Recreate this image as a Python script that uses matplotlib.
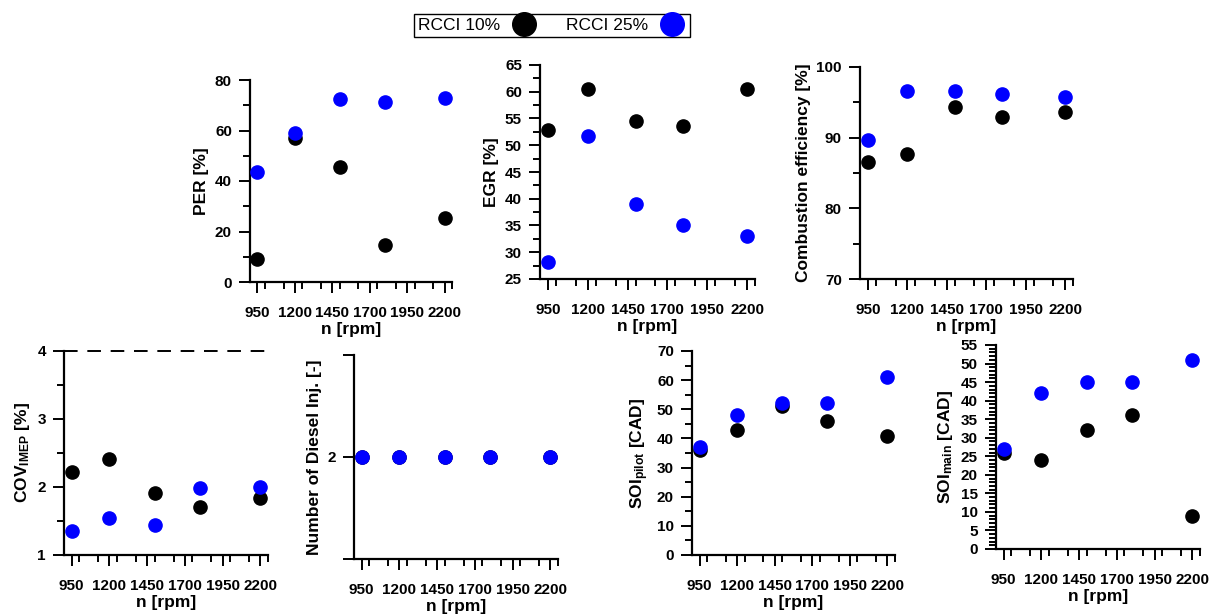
import matplotlib
matplotlib.use('Agg')
import matplotlib.pyplot as plt
from matplotlib.ticker import MultipleLocator
from matplotlib.lines import Line2D

plt.rcParams['font.family'] = ['Liberation Sans', 'DejaVu Sans']
plt.rcParams['font.weight'] = 'bold'
plt.rcParams['mathtext.fontset'] = 'custom'
plt.rcParams['mathtext.rm'] = 'Liberation Sans:bold'
plt.rcParams['mathtext.bf'] = 'Liberation Sans:bold'
plt.rcParams['mathtext.it'] = 'Liberation Sans:bold'

# engine speed
rpm = [950, 1200, 1500, 1800, 2200]
rpm_ticks = [950, 1200, 1450, 1700, 1950, 2200]

# RCCI 10%
per_10 = [9.2, 56.9, 45.5, 14.8, 25.2]
egr_10 = [52.9, 60.5, 54.5, 53.6, 60.6]
ce_10 = [86.5, 87.7, 94.3, 92.9, 93.6]
cov_10 = [2.22, 2.41, 1.91, 1.71, 1.84]
ninj_10 = [2, 2, 2, 2, 2]
soi_pilot_10 = [36, 43, 51, 46, 41]
soi_main_10 = [26, 24, 32, 36, 9]

# RCCI 25%
per_25 = [43.6, 58.9, 72.5, 71.2, 72.8]
egr_25 = [28.2, 51.7, 39.1, 35.0, 33.0]
ce_25 = [89.6, 96.6, 96.6, 96.2, 95.7]
cov_25 = [1.35, 1.54, 1.44, 1.98, 2.0]
ninj_25 = [2, 2, 2, 2, 2]
soi_pilot_25 = [37, 48, 52, 52, 61]
soi_main_25 = [27, 42, 45, 45, 51]

W, H = 1219, 616
fig = plt.figure(figsize=(W / 100, H / 100), dpi=100)


def box(l, t, r, b):
    return [l / W, 1 - b / H, (r - l) / W, (b - t) / H]


def panel(rect, y10, y25, ylabel, ylim, major, minor):
    ax = fig.add_axes(rect)
    ax.plot(rpm, y10, 'o', color='black', ms=9.5, ls='none', clip_on=False, zorder=3)
    ax.plot(rpm, y25, 'o', color='#0000ff', ms=9.5, ls='none', clip_on=False, zorder=4)
    ax.set_xlim(900, 2250)
    ax.set_ylim(*ylim)
    ax.set_xticks(rpm_ticks)
    ax.xaxis.set_minor_locator(MultipleLocator(125))
    if major is not None:
        ax.yaxis.set_major_locator(MultipleLocator(major))
    if minor is not None:
        ax.yaxis.set_minor_locator(MultipleLocator(minor))
    for s in ['top', 'right']:
        ax.spines[s].set_visible(False)
    for s in ['left', 'bottom']:
        ax.spines[s].set_linewidth(1.6)
    ax.tick_params(which='major', direction='out', length=8, width=1.4, labelsize=11)
    ax.tick_params(which='minor', direction='out', length=5, width=1.4)
    ax.tick_params(axis='x', which='major', pad=9)
    ax.tick_params(axis='y', which='major', pad=5)
    ax.set_xlabel('n [rpm]', fontsize=12.5, fontweight='bold', labelpad=2)
    ax.set_ylabel(ylabel, fontsize=12.5, fontweight='bold', labelpad=4)
    return ax


# top row
panel(box(250, 80, 452, 282), per_10, per_25, 'PER [%]', (0, 80), 20, 10)
panel(box(540, 65, 755, 279), egr_10, egr_25, 'EGR [%]', (25, 65), 5, 2.5)
panel(box(860, 67, 1073, 279), ce_10, ce_25, 'Combustion efficiency [%]', (70, 100), 10, 5)

# bottom row
ax_cov = panel(box(64, 351, 268, 555), cov_10, cov_25, r'COV$_{\mathrm{IMEP}}$ [%]', (1, 4), 1, 0.5)
ax_cov.axhline(4, color='black', lw=1.4, dashes=[7, 5], clip_on=False)

ax_inj = panel(box(354, 355, 558, 559), ninj_10, ninj_25, 'Number of Diesel Inj. [-]', (1, 3), None, None)
ax_inj.set_yticks([1, 2, 3])
ax_inj.set_yticklabels(['', '2', ''])

panel(box(692, 351, 895, 555), soi_pilot_10, soi_pilot_25, r'SOI$_{\mathrm{pilot}}$ [CAD]', (0, 70), 10, 5)
panel(box(996, 345, 1200, 549), soi_main_10, soi_main_25, r'SOI$_{\mathrm{main}}$ [CAD]', (0, 55), 5, 1)

# shared legend
handles = [
    Line2D([], [], marker='o', color='black', ls='none', ms=17),
    Line2D([], [], marker='o', color='#0000ff', ls='none', ms=17),
]
leg = fig.legend(handles, ['RCCI 10%', 'RCCI 25%'], loc='center',
                 bbox_to_anchor=(552 / W, 1 - 25.5 / H), ncol=2, markerfirst=False,
                 frameon=True, fancybox=False, edgecolor='black', framealpha=1,
                 prop={'weight': 'normal', 'size': 12.5}, borderpad=0.2,
                 columnspacing=1.6, handletextpad=0.6, handlelength=1.6)
leg.get_frame().set_linewidth(1.0)

fig.savefig('out.png', dpi=100)
